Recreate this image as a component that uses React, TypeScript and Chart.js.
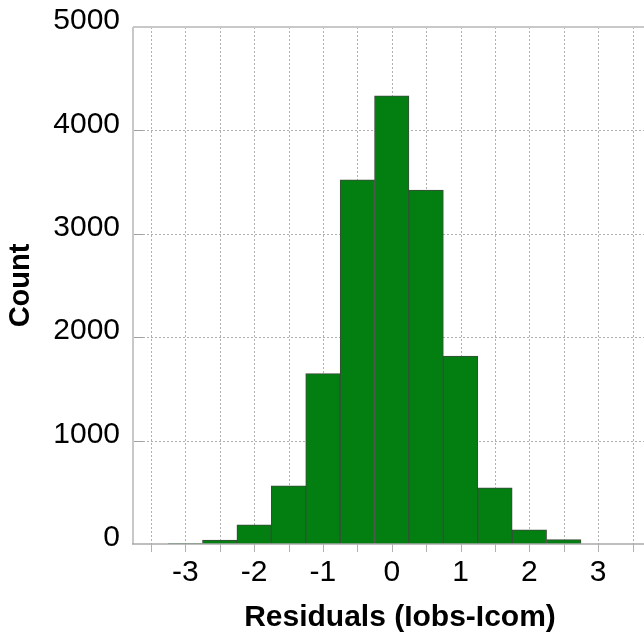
import { useEffect, useRef } from 'react';
import { Chart, registerables } from 'chart.js';

Chart.register(...registerables);

// Histogram bins (bin centres, width 0.5) and counts
const binCenters = [-3, -2.5, -2, -1.5, -1, -0.5, 0, 0.5, 1, 1.5, 2, 2.5, 3];
const counts = [3, 38, 186, 563, 1648, 3523, 4334, 3424, 1818, 543, 138, 42, 0];
const xLabelValues = [-3, -2, -1, 0, 1, 2, 3];
const yTickValues = [0, 1000, 2000, 3000, 4000, 5000];
const xTitle = 'Residuals (Iobs-Icom)';
const yTitle = 'Count';

const FONT = '"Liberation Sans", Arial, Helvetica, sans-serif';

const framePlugin = {
  id: 'frame',
  beforeDatasetsDraw(chart: any) {
    const { ctx, chartArea, scales } = chart;
    const { left, right, top, bottom } = chartArea;
    const x = scales.x;
    const y = scales.y;
    ctx.save();
    ctx.strokeStyle = '#b0b0b0';
    ctx.lineWidth = 1;
    ctx.setLineDash([2, 2]);
    for (const t of x.ticks) {
      const px = Math.round(x.getPixelForValue(t.value)) + 0.5;
      if (px <= left + 2) continue;
      ctx.beginPath();
      ctx.moveTo(px, top);
      ctx.lineTo(px, bottom);
      ctx.stroke();
    }
    for (const v of yTickValues) {
      if (v === 0 || v === 5000) continue;
      const py = Math.round(y.getPixelForValue(v)) + 0.5;
      ctx.beginPath();
      ctx.moveTo(left + 10, py);
      ctx.lineTo(right, py);
      ctx.stroke();
    }
    ctx.setLineDash([]);
    ctx.strokeStyle = '#a0a0a0';
    for (const v of yTickValues) {
      if (v === 0 || v === 5000) continue;
      const py = Math.round(y.getPixelForValue(v)) + 0.5;
      ctx.beginPath();
      ctx.moveTo(left, py);
      ctx.lineTo(left + 10, py);
      ctx.stroke();
    }
    ctx.restore();
  },
  afterDatasetsDraw(chart: any) {
    const { ctx, chartArea, scales } = chart;
    const { left, right, top, bottom } = chartArea;
    const x = scales.x;
    ctx.save();
    ctx.setLineDash([]);
    // top and left borders
    ctx.strokeStyle = '#c8c8c8';
    ctx.lineWidth = 2;
    ctx.beginPath();
    ctx.moveTo(left, top);
    ctx.lineTo(right, top);
    ctx.moveTo(left, top);
    ctx.lineTo(left, bottom);
    ctx.stroke();
    // bottom axis
    ctx.strokeStyle = '#a8a8a8';
    ctx.lineWidth = 1.5;
    ctx.beginPath();
    ctx.moveTo(left - 1, bottom);
    ctx.lineTo(right, bottom);
    ctx.stroke();
    // x tick marks
    ctx.lineWidth = 1;
    ctx.strokeStyle = '#b0b0b0';
    for (const t of x.ticks) {
      const px = Math.round(x.getPixelForValue(t.value)) + 0.5;
      if (px <= left + 2) continue;
      ctx.beginPath();
      ctx.moveTo(px, bottom);
      ctx.lineTo(px, bottom + 8);
      ctx.stroke();
    }
    ctx.restore();
  },
};

export default function App() {
  const ref = useRef<HTMLCanvasElement | null>(null);

  useEffect(() => {
    if (!ref.current) return;
    const chart = new Chart(ref.current, {
      type: 'bar',
      data: {
        datasets: [
          {
            data: binCenters.map((c, i) => ({ x: c, y: counts[i] })),
            backgroundColor: '#037f12',
            borderColor: '#3c4a3c',
            borderWidth: 1,
            barPercentage: 1,
            categoryPercentage: 1,
          } as any,
        ],
      },
      options: {
        animation: false,
        responsive: false,
        maintainAspectRatio: false,
        layout: { padding: { left: 0, right: 13, top: 27, bottom: 0 } },
        plugins: { legend: { display: false }, tooltip: { enabled: false } },
        scales: {
          x: {
            type: 'linear',
            min: -3.76,
            max: 4,
            offset: false,
            grid: { display: false },
            border: { display: false },
            ticks: {
              stepSize: 0.5,
              includeBounds: false,
              autoSkip: false,
              maxRotation: 0,
              minRotation: 0,
              padding: 3,
              color: '#000',
              font: { family: FONT, size: 30 },
              callback: (v: any) => (xLabelValues.includes(Number(v)) ? String(v) : ''),
            },
            title: {
              display: true,
              text: xTitle,
              color: '#000',
              font: { family: FONT, size: 30, weight: 'bold' },
              padding: { top: 0, bottom: 0 },
            },
            afterFit: (s: any) => {
              s.height = 92;
            },
          },
          y: {
            min: 0,
            max: 5000,
            grid: { display: false },
            border: { display: false },
            ticks: {
              stepSize: 1000,
              padding: 5,
              labelOffset: -6,
              color: '#000',
              font: { family: FONT, size: 30 },
              callback: (v: any) => String(v),
            },
            title: {
              display: true,
              text: yTitle,
              color: '#000',
              font: { family: FONT, size: 29, weight: 'bold' },
              padding: { top: 4, bottom: 4 },
            },
            afterFit: (s: any) => {
              s.width = 133;
            },
          },
        },
      } as any,
      plugins: [framePlugin],
    });
    return () => chart.destroy();
  }, []);

  return (
    <div style={{ position: 'fixed', left: 0, top: 0, width: 644, height: 636, overflow: 'hidden', background: '#fff' }}>
      <canvas ref={ref} width={680} height={636} style={{ display: 'block', width: 680, height: 636 }} />
    </div>
  );
}
